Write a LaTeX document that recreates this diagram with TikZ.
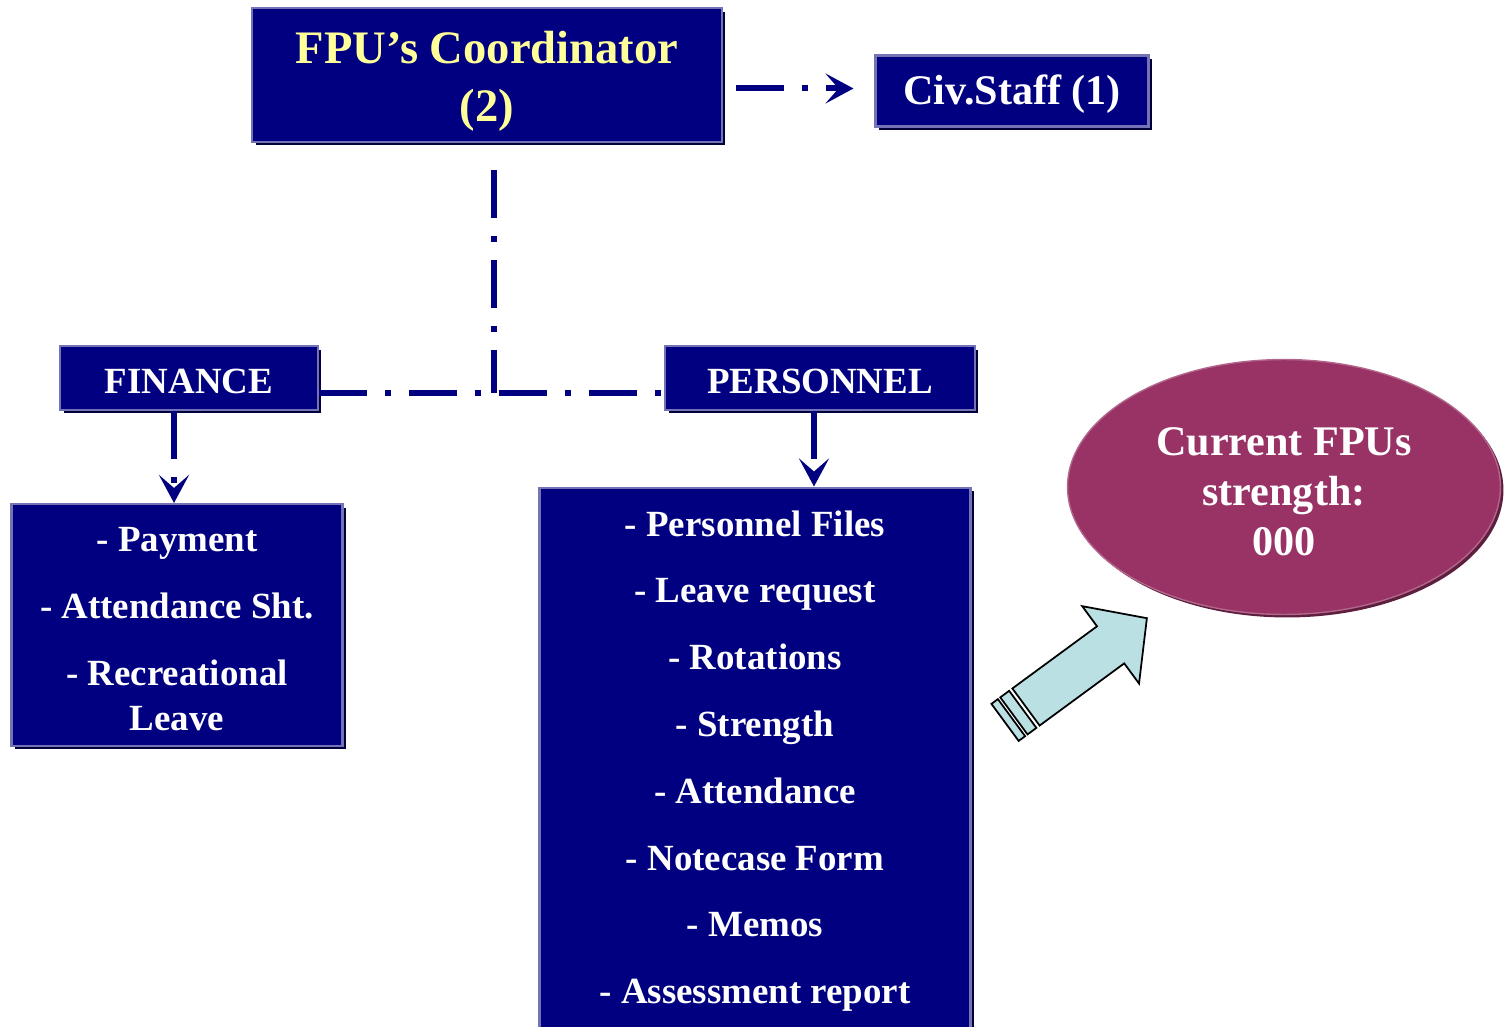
\documentclass[tikz,border=0pt]{standalone}
\usepackage{fontspec}
\setmainfont{Liberation Serif}
\usetikzlibrary{arrows.meta,shadows,shapes.geometric}
\definecolor{fpunavy}{HTML}{000080}
\definecolor{fpuedge}{HTML}{7373B5}
\definecolor{fpushade}{HTML}{00003A}
\definecolor{fpuyellow}{HTML}{FFFF99}
\definecolor{fpuplum}{HTML}{993366}
\definecolor{fpuplumdark}{HTML}{5E1E3E}
\definecolor{fpucyan}{HTML}{BBE0E3}
\begin{document}
\begin{tikzpicture}[x=0.02cm,y=-0.02cm,
    box/.style={fill=fpunavy,draw=fpuedge,line width=1.2pt,text=white,align=center,
      drop shadow={shadow xshift=0.07cm,shadow yshift=-0.07cm,fill=fpushade,opacity=1}},
    conn/.style={draw=fpunavy,line width=0.12cm,dash pattern=on 0.96cm off 0.36cm on 0.12cm off 0.36cm},
    headed/.style={-{Stealth[length=0.56cm,width=0.6cm,inset=0.26cm]}},
    bigarrow/.style={draw=black,fill=fpucyan,line width=1pt,line join=miter}]
            \useasboundingbox (0,0) rectangle (1509,1027);
            \node[box,minimum width=9.4cm,minimum height=2.68cm,text=fpuyellow,font=\bfseries\fontsize{26.5}{33}\selectfont] (coord) at (487,75) {\rule{0pt}{26pt}FPU’s Coordinator\\(2)};
            \node[box,minimum width=5.46cm,minimum height=1.42cm,font=\bfseries\fontsize{24}{29}\selectfont] (civ) at (1012,91) {\rule{0pt}{21pt}Civ.Staff (1)};
            \node[box,minimum width=5.16cm,minimum height=1.28cm,font=\bfseries\fontsize{21}{25}\selectfont] (fin) at (189,378) {\rule{0pt}{17.3pt}FINANCE};
            \node[box,minimum width=6.2cm,minimum height=1.28cm,font=\bfseries\fontsize{21}{25}\selectfont] (pers) at (820,378) {\rule{0pt}{17.3pt}PERSONNEL};
            \node[box,minimum width=6.62cm,minimum height=4.84cm,font=\bfseries\fontsize{21}{38}\selectfont] (finlist) at (177,625) {\rule{0pt}{18.4pt}- Payment\\- Attendance Sht.\\- Recreational\\[-12.5pt]Leave};
            \node[box,minimum width=8.62cm,minimum height=10.94cm,font=\bfseries\fontsize{21}{38}\selectfont] (perslist) at (755,761) {- Personnel Files\\- Leave request\\- Rotations\\- Strength\\- Attendance\\- Notecase Form\\- Memos\\- Assessment report};
            \node[ellipse,fill=fpuplum,draw=fpuplum!75!white,line width=0.8pt,minimum width=8.66cm,minimum height=5.1cm,text=white,align=center,font=\bfseries\fontsize{24}{28.5}\selectfont,
              drop shadow={shadow xshift=0.06cm,shadow yshift=-0.06cm,fill=fpuplumdark,opacity=1}] (strength) at (1284,487) {\rule{0pt}{21pt}Current FPUs\\strength:\\000};
            \coordinate (civin) at ([xshift=-0.42cm,yshift=0.05cm]civ.west);
            \coordinate (civout) at (coord.east |- civin);
            \draw[conn,headed] ([xshift=0.26cm]civout) -- (civin);
            \coordinate (vtop) at ([shift={(0.14cm,-0.54cm)}]coord.south);
            \coordinate (hleft) at ([yshift=-0.3cm]fin.east);
            \draw[conn] (vtop) -- (vtop |- hleft);
            \draw[conn] (hleft) -- (hleft -| pers.west);
            \coordinate (fdown) at ([xshift=-0.3cm]fin.south);
            \draw[conn,headed] (fdown) -- (fdown |- finlist.north);
            \coordinate (pdown) at ([xshift=-0.12cm]pers.south);
            \draw[conn,headed] (pdown) -- (pdown |- perslist.north);
            \begin{scope}[shift={(1026,707)},rotate=36.3]
                \draw[bigarrow] (0,-23) -- (105,-23) -- (105,-48) -- (150,0) -- (105,48) -- (105,23) -- (0,23) -- cycle;
                \draw[bigarrow] (-15,-23) rectangle (-4,23);
                \draw[bigarrow] (-26,-23) rectangle (-18,23);
            \end{scope}
        \end{tikzpicture}
\end{document}
